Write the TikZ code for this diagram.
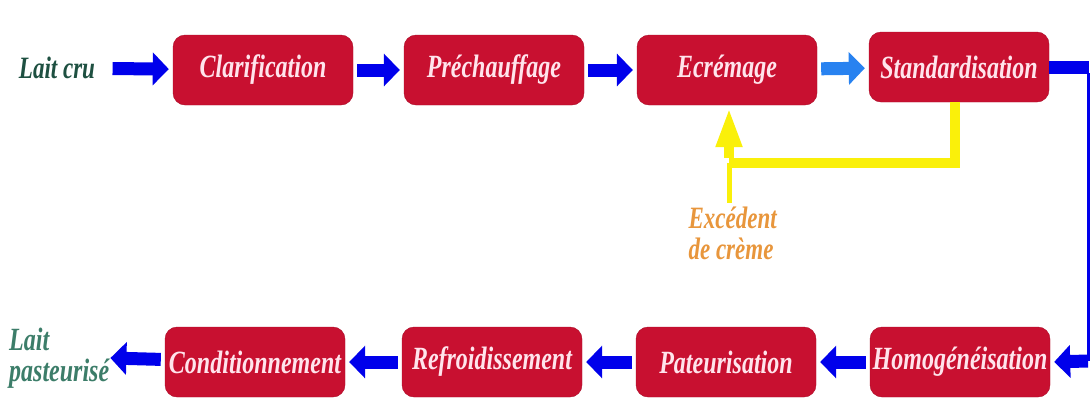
\documentclass[tikz,border=0pt]{standalone}
\usepackage{fontspec}
\setmainfont{Liberation Serif}
\usepackage{graphicx}
\usetikzlibrary{arrows.meta, positioning, calc}
\definecolor{boxred}{RGB}{200, 16, 48}
\definecolor{boxtext}{RGB}{255, 228, 236}
\definecolor{flowblue}{RGB}{0, 0, 235}
\definecolor{lightflow}{RGB}{40, 130, 240}
\definecolor{creamyellow}{RGB}{250, 240, 10}
\definecolor{creamorange}{RGB}{232, 150, 60}
\definecolor{milkgreen}{RGB}{30, 80, 65}
\definecolor{pastgreen}{RGB}{60, 125, 105}
\newcommand{\tallfont}[1]{\scalebox{1}[1.35]{#1}}
\tikzstyle{stage} = [rectangle, rounded corners=12pt, minimum width=180pt, minimum height=70pt,
                     inner sep=0pt, text centered, draw=boxred!85!black, fill=boxred, text=boxtext,
                     font=\fontsize{24}{26}\selectfont\bfseries\itshape]
\tikzstyle{flow} = [-{Triangle[length=16pt, width=32pt]}, line width=13pt, flowblue, shorten >=4pt, shorten <=4pt]
\tikzstyle{cream} = [line width=10pt, creamyellow]
\begin{document}
\begin{tikzpicture}[x=1pt, y=-1pt]

\useasboundingbox (0, 0) rectangle (1090, 400);

% Top row
\node[stage] (clar) at (263, 70) {\tallfont{Clarification}};
\node[stage] (prech) at (494, 70) {\tallfont{Préchauffage}};
\node[stage] (ecre) at (727, 70) {\tallfont{Ecrémage}};
\node[stage] (stand) at (959, 67) {\tallfont{Standardisation}};

% Bottom row
\node[stage] (cond) at (255, 362) {\tallfont{Conditionnement}};
\node[stage] (refr) at (492, 362) {\tallfont{Refroidissement}};
\node[stage] (pate) at (726, 362) {\tallfont{Pateurisation}};
\node[stage] (homo) at (960, 362) {\tallfont{Homogénéisation}};

% Input / output
\node[font=\fontsize{23}{25}\selectfont\bfseries\itshape, text=milkgreen] (lait) at (57, 68) {\tallfont{Lait cru}};
\node[anchor=west, align=left, inner sep=1pt, font=\fontsize{24}{31}\selectfont\bfseries\itshape, text=pastgreen] (past) at (8, 358)
    {\tallfont{Lait}\\\tallfont{pasteurisé}};

% Cream excess
\node[anchor=north west, align=left, font=\fontsize{23}{31}\selectfont\bfseries\itshape, text=creamorange] (exc) at (685, 203)
    {\tallfont{Excédent}\\\tallfont{de crème}};

% Corners
\coordinate (turnA) at (1088, 67);
\coordinate (turnB) at (1088, 361);
\coordinate (ya) at (729, 163);

% Arrows
\draw[flow, shorten <=14pt] (lait) -- (clar);
\draw[flow] (clar) -- (prech);
\draw[flow] (prech) -- (ecre);
\draw[flow, lightflow] (ecre) -- (stand);

\draw[line width=13pt, flowblue] (stand.east) -- ([xshift=1pt]turnA);
\draw[line width=3pt, flowblue] ([yshift=-6pt]turnA) -- (turnB);
\draw[flow, shorten <=0pt] (turnB) -- (homo.east);

\draw[flow] (homo) -- (pate);
\draw[flow] (pate) -- (refr);
\draw[flow] (refr) -- (cond);
\draw[flow, shorten >=0pt] (cond) -- (past.east);

% Cream return
\draw[cream] ([xshift=-4pt]stand.south) |- (ya);
\draw[cream, -{Triangle[length=40pt, width=24pt]}, shorten >=2pt] ([yshift=5pt]ya) -- (ya |- ecre.south);
\draw[creamyellow, line width=5pt] (ya) -- (ya |- exc.north);

\end{tikzpicture}
\end{document}
